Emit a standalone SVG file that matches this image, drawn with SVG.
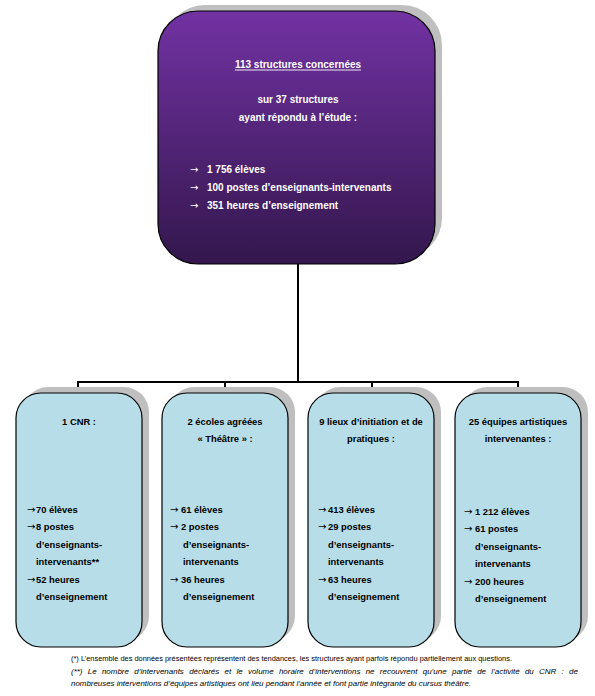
<svg xmlns="http://www.w3.org/2000/svg" width="595" height="696" viewBox="0 0 595 696">
<defs>
<linearGradient id="pg" x1="0" y1="0" x2="0" y2="1">
<stop offset="0" stop-color="#7232a3"/>
<stop offset="1" stop-color="#33174d"/>
</linearGradient>
<style>
.sh{fill:#bfbfbf}
.top{fill:url(#pg);stroke:#000;stroke-width:1.2}
.box{fill:#b7dee8;stroke:#000;stroke-width:1.2}
.w{font-family:"Liberation Sans",Arial,sans-serif;font-size:10px;font-weight:bold;fill:#fff}
.b{font-family:"Liberation Sans",Arial,sans-serif;font-size:9.4px;font-weight:bold;fill:#000}
.ar{font-family:"DejaVu Sans",sans-serif;font-weight:normal;font-size:10px}
.c{text-anchor:middle}
.fn{font-family:"Liberation Sans",Arial,sans-serif;font-size:7px;fill:#000}
.it{font-style:italic}
.conn{fill:none;stroke:#000;stroke-width:2}
</style>
</defs>
<rect width="595" height="696" fill="#fff"/>

<g id="connectors">
<path class="conn" d="M298,264 V382 M78,382 H518 M78,381 V393 M225,381 V393 M372,381 V393 M518,381 V393"/>
</g>

<g id="node-top">
<rect class="sh" x="165" y="5" width="277" height="253" rx="40"/>
<rect class="top" x="158" y="11" width="277" height="253" rx="40"/>
<text class="w c" x="298" y="68">113 structures concernées</text>
<line x1="235" y1="70" x2="361" y2="70" stroke="#fff" stroke-width="0.9"/>
<text class="w c" x="298" y="103">sur 37 structures</text>
<text class="w c" x="298" y="121">ayant répondu à l’étude :</text>
<text class="w ar" x="190" y="173" font-size="9">→</text>
<text class="w" x="207" y="173">1 756 élèves</text>
<text class="w ar" x="190" y="191" font-size="9">→</text>
<text class="w" x="207" y="191">100 postes d’enseignants-intervenants</text>
<text class="w ar" x="190" y="209" font-size="9">→</text>
<text class="w" x="207" y="209">351 heures d’enseignement</text>
</g>

<g id="node-cnr">
<rect class="sh" x="23" y="387" width="126" height="254" rx="25"/>
<rect class="box" x="16" y="393" width="126" height="254" rx="25"/>
<text class="b c" x="79" y="425">1 CNR :</text>
<text class="b ar" x="27" y="513">→</text><text class="b" x="36" y="513">70 élèves</text>
<text class="b ar" x="27" y="530">→</text><text class="b" x="36" y="530">8 postes</text>
<text class="b" x="36" y="548">d’enseignants-</text>
<text class="b" x="36" y="565">intervenants**</text>
<text class="b ar" x="27" y="583">→</text><text class="b" x="36" y="583">52 heures</text>
<text class="b" x="36" y="600">d’enseignement</text>
</g>

<g id="node-ecoles">
<rect class="sh" x="169" y="387" width="126" height="254" rx="25"/>
<rect class="box" x="162" y="393" width="126" height="254" rx="25"/>
<text class="b c" x="225" y="425">2 écoles agréées</text>
<text class="b c" x="225" y="442">« Théâtre » :</text>
<text class="b ar" x="170" y="513">→</text><text class="b" x="181" y="513">61 élèves</text>
<text class="b ar" x="170" y="530">→</text><text class="b" x="181" y="530">2 postes</text>
<text class="b" x="183" y="548">d’enseignants-</text>
<text class="b" x="183" y="565">intervenants</text>
<text class="b ar" x="170" y="583">→</text><text class="b" x="181" y="583">36 heures</text>
<text class="b" x="183" y="600">d’enseignement</text>
</g>

<g id="node-lieux">
<rect class="sh" x="315" y="387" width="126" height="254" rx="25"/>
<rect class="box" x="308" y="393" width="126" height="254" rx="25"/>
<text class="b c" x="371" y="425">9 lieux d’initiation et de</text>
<text class="b c" x="371" y="442">pratiques :</text>
<text class="b ar" x="318" y="513">→</text><text class="b" x="328" y="513">413 élèves</text>
<text class="b ar" x="318" y="530">→</text><text class="b" x="328" y="530">29 postes</text>
<text class="b" x="328" y="548">d’enseignants-</text>
<text class="b" x="328" y="565">intervenants</text>
<text class="b ar" x="318" y="583">→</text><text class="b" x="328" y="583">63 heures</text>
<text class="b" x="328" y="600">d’enseignement</text>
</g>

<g id="node-equipes">
<rect class="sh" x="462" y="387" width="126" height="254" rx="25"/>
<rect class="box" x="455" y="393" width="126" height="254" rx="25"/>
<text class="b c" x="518" y="425">25 équipes artistiques</text>
<text class="b c" x="518" y="442">intervenantes :</text>
<text class="b ar" x="464" y="515">→</text><text class="b" x="475" y="515">1 212 élèves</text>
<text class="b ar" x="464" y="532">→</text><text class="b" x="475" y="532">61 postes</text>
<text class="b" x="475" y="550">d’enseignants-</text>
<text class="b" x="475" y="567">intervenants</text>
<text class="b ar" x="464" y="585">→</text><text class="b" x="475" y="585">200 heures</text>
<text class="b" x="475" y="602">d’enseignement</text>
</g>

<g id="footnotes">
<text class="fn" x="71" y="661" textLength="441" lengthAdjust="spacingAndGlyphs">(*) L’ensemble des données présentées représentent des tendances, les structures ayant parfois répondu partiellement aux questions.</text>
<text class="fn it" x="71" y="674" word-spacing="2.7" textLength="507" lengthAdjust="spacingAndGlyphs">(**) Le nombre d’intervenants déclarés et le volume horaire d’interventions ne recouvrent qu’une partie de l’activité du CNR : de</text>
<text class="fn it" x="71" y="686" textLength="400" lengthAdjust="spacingAndGlyphs">nombreuses interventions d’équipes artistiques ont lieu pendant l’année et font partie intégrante du cursus théâtre.</text>
</g>
</svg>
